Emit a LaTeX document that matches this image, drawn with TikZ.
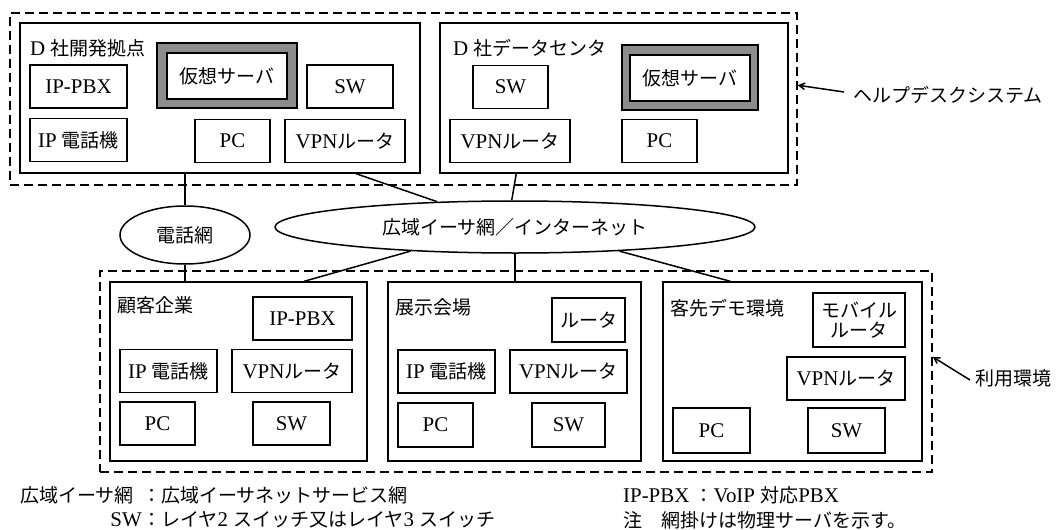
\documentclass[tikz,border=0pt]{standalone}
\usepackage{fontspec}
\setmainfont[Scale=1.1]{Liberation Serif}
\newfontfamily\jp{Noto Sans CJK JP}
\newcommand{\jt}[1]{{\jp #1}}
\usetikzlibrary{arrows,shapes.geometric,calc}

\begin{document}
\begin{tikzpicture}[x=1pt,y=-1pt,
    font=\fontsize{19}{22}\selectfont,
    site/.style={draw,line width=1.5pt,inner sep=0pt,minimum height=150pt},
    dev/.style={draw,line width=1.5pt,inner sep=0pt,minimum height=43pt},
    group/.style={draw,line width=1.6pt,dash pattern=on 9pt off 5pt,inner sep=0pt},
    cloud/.style={draw,ellipse,line width=1.5pt,inner sep=0pt},
    link/.style={line width=1.5pt},
    note/.style={->,>=angle 60,line width=1.5pt},
    txt/.style={inner sep=0pt,anchor=west}]
\useasboundingbox (0,0) rectangle (1061,530);

% dashed groups
\node[group,minimum width=787pt,minimum height=172pt] (hd)  at (403.5,99)  {};
\node[group,minimum width=832pt,minimum height=201pt] (use) at (516,371.5) {};

% D-sha kaihatsu kyoten
\node[site,minimum width=400pt] (hq) at (220,98) {};
\node[txt] (hq_lbl) at (30,48) {D \jt{社開発拠点}};
\node[dev,minimum width=97pt]  (hq_pbx) at (78.5,86.5) {IP-PBX};
\node[dev,fill=black!45,minimum width=140pt,minimum height=65pt] (hq_vsh) at (227,75.5) {};
\node[dev,fill=white,line width=2pt,minimum width=120pt,minimum height=46pt] (hq_vs) at (227,76) {\jt{仮想サーバ}};
\node[dev,minimum width=86pt]  (hq_sw)  at (350,86.5) {SW};
\node[dev,minimum width=97pt]  (hq_tel) at (78.5,140) {IP \jt{電話機}};
\node[dev,minimum width=75pt]  (hq_pc)  at (232.5,141) {PC};
\node[dev,minimum width=120pt] (hq_vpn) at (345,141) {VPN\jt{ルータ}};

% D-sha data center
\node[site,minimum width=348pt] (dc) at (614,98) {};
\node[txt] (dc_lbl) at (453,48) {D \jt{社データセンタ}};
\node[dev,minimum width=75pt]  (dc_sw)  at (510.5,87) {SW};
\node[dev,fill=black!45,minimum width=136pt,minimum height=65pt] (dc_vsh) at (690,77.5) {};
\node[dev,fill=white,line width=2pt,minimum width=120pt,minimum height=46pt] (dc_vs) at (690,78) {\jt{仮想サーバ}};
\node[dev,minimum width=120pt] (dc_vpn) at (510,141) {VPN\jt{ルータ}};
\node[dev,minimum width=75pt]  (dc_pc)  at (659.5,141) {PC};

% networks
\node[cloud,minimum width=130pt,minimum height=58pt] (tel) at (185,235) {\jt{電話網}};
\node[cloud,minimum width=480pt,minimum height=52pt] (wan) at (515,227) {\jt{広域イーサ網／インターネット}};

% kokyaku kigyou
\node[site,minimum width=257pt,minimum height=179pt] (cust) at (238.5,371.5) {};
\node[txt] (cust_lbl) at (117,305) {\jt{顧客企業}};
\node[dev,minimum width=99pt]  (cust_pbx) at (302.5,318.5) {IP-PBX};
\node[dev,minimum width=97pt]  (cust_tel) at (168.5,371) {IP \jt{電話機}};
\node[dev,minimum width=120pt] (cust_vpn) at (292,371) {VPN\jt{ルータ}};
\node[dev,minimum width=75pt]  (cust_pc)  at (157.5,423.5) {PC};
\node[dev,minimum width=77pt]  (cust_sw)  at (291.5,423.5) {SW};

% tenji kaijou
\node[site,minimum width=253pt,minimum height=179pt] (expo) at (514.5,371.5) {};
\node[txt] (expo_lbl) at (395,307) {\jt{展示会場}};
\node[dev,minimum width=73pt,minimum height=44pt] (expo_rt) at (588.5,320) {\jt{ルータ}};
\node[dev,minimum width=97pt]  (expo_tel) at (446.5,371.5) {IP \jt{電話機}};
\node[dev,minimum width=117pt] (expo_vpn) at (568.5,371.5) {VPN\jt{ルータ}};
\node[dev,minimum width=75pt,minimum height=44pt] (expo_pc) at (435.5,425) {PC};
\node[dev,minimum width=73pt,minimum height=44pt] (expo_sw) at (568.5,425) {SW};

% kyakusaki demo kankyou
\node[site,minimum width=259pt,minimum height=179pt] (demo) at (792.5,371.5) {};
\node[txt] (demo_lbl) at (670,308) {\jt{客先デモ環境}};
\node[dev,minimum width=92pt,minimum height=54pt,align=center] (demo_mr) at (859,320) {\jt{モバイル}\\[-2pt]\jt{ルータ}};
\node[dev,minimum width=118pt] (demo_vpn) at (846,378.5) {VPN\jt{ルータ}};
\node[dev,minimum width=77pt,minimum height=45pt] (demo_pc) at (711.5,430.5) {PC};
\node[dev,minimum width=77pt,minimum height=45pt] (demo_sw) at (846.5,430.5) {SW};

% links
\draw[link] (tel.north |- hq.south) -- (tel.north);
\draw[link] ($(hq.south west)+(337,0)$) -- (wan.162);
\draw[link] ($(dc.south west)+(77,0)$) -- (wan.97);
\draw[link] (tel.south) -- (tel.south |- cust.north);
\draw[link] (wan.193) -- ($(cust.north west)+(195,0)$);
\draw[link] (wan.south) -- (wan.south |- expo.north);
\draw[link] (wan.-13) -- ($(demo.north west)+(68,0)$);

% group labels
\node[txt] (hd_lbl) at (853,95) {\jt{ヘルプデスクシステム}};
\draw[note] ($(hd_lbl.west)+(-9,-3)$) -- (hd.2);
\node[txt] (use_lbl) at (975,378) {\jt{利用環境}};
\draw[note] ($(use_lbl.west)+(-5,2)$) -- (use.2);

% legend
\node[txt,anchor=east] (k1) at (134,495) {\jt{広域イーサ網}};
\node[txt] (v1) at (142,495) {\jt{：広域イーサネットサービス網}};
\node[txt,anchor=east] (k2) at (142,520) {SW};
\node[txt] (v2) at (142,520) {\jt{：レイヤ}2 \jt{スイッチ又はレイヤ}3 \jt{スイッチ}};
\node[txt] (k3) at (623,495) {IP-PBX \jt{：}VoIP \jt{対応}PBX};
\node[txt] (k4) at (623,520) {\jt{注　網掛けは物理サーバを示す。}};
\end{tikzpicture}
\end{document}
